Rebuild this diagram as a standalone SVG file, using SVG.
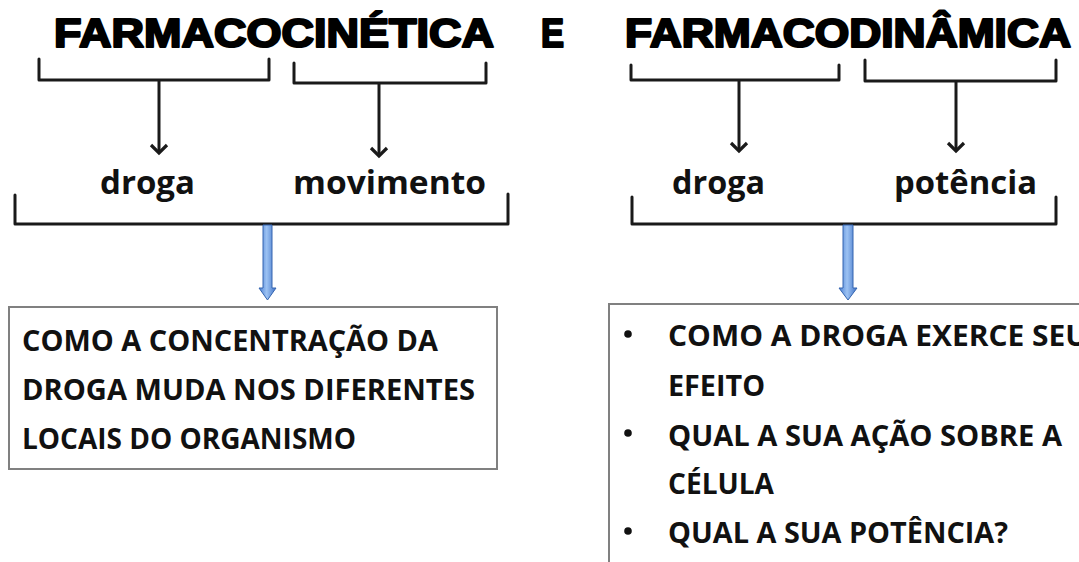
<svg xmlns="http://www.w3.org/2000/svg" width="1079" height="562" viewBox="0 0 1079 562">
<defs>
<style>
.title{font-family:"Liberation Sans",Arial,sans-serif;font-weight:700;font-size:40px;fill:#000;stroke:#000;stroke-width:2.2px;stroke-linejoin:round}
.word{font-family:"Open Sans","Noto Sans",sans-serif;font-weight:700;font-size:32px;fill:#111}
.body{font-family:"Open Sans","Noto Sans",sans-serif;font-weight:700;font-size:28px;fill:#111}
.brk{fill:none;stroke:#1a1a1a;stroke-width:3;stroke-linejoin:round;stroke-linecap:round}
.arr{fill:none;stroke:#1a1a1a;stroke-width:3}
.box{fill:#fff;stroke:#808080;stroke-width:2}
.blue{fill:url(#bg);stroke:#3565b0;stroke-width:1}
</style>
<linearGradient id="bg" x1="0" y1="0" x2="1" y2="0">
<stop offset="0" stop-color="#4a7fd2"/>
<stop offset="0.45" stop-color="#9cc2f3"/>
<stop offset="1" stop-color="#3f72c6"/>
</linearGradient>
<marker id="ah" markerWidth="20" markerHeight="20" refX="10" refY="10" orient="auto" markerUnits="userSpaceOnUse">
<path d="M2,2 L10,10 L2,18" fill="none" stroke="#1a1a1a" stroke-width="3.2" stroke-linejoin="miter"/>
</marker>
</defs>
<rect width="1079" height="562" fill="#fff"/>

<g id="title-left"><text class="title" x="54" y="47" textLength="440" lengthAdjust="spacingAndGlyphs">FARMACOCINÉTICA</text></g>
<g id="title-e"><text class="title" x="541" y="47" textLength="23" lengthAdjust="spacingAndGlyphs">E</text></g>
<g id="title-right"><text class="title" x="625" y="47" textLength="446" lengthAdjust="spacingAndGlyphs">FARMACODINÂMICA</text></g>

<g id="word-droga-1"><text class="word" x="100" y="194" textLength="95" lengthAdjust="spacingAndGlyphs">droga</text></g>
<g id="word-movimento"><text class="word" x="293" y="194" textLength="193" lengthAdjust="spacingAndGlyphs">movimento</text></g>
<g id="word-droga-2"><text class="word" x="672" y="194" textLength="93" lengthAdjust="spacingAndGlyphs">droga</text></g>
<g id="word-potencia"><text class="word" x="894" y="194" textLength="143" lengthAdjust="spacingAndGlyphs">potência</text></g>

<g id="box-left">
<rect class="box" x="9" y="307" width="488" height="162"/>
<text class="body" x="22" y="351" textLength="416" lengthAdjust="spacingAndGlyphs">COMO A CONCENTRAÇÃO DA</text>
<text class="body" x="22" y="400" textLength="453" lengthAdjust="spacingAndGlyphs">DROGA MUDA NOS DIFERENTES</text>
<text class="body" x="22" y="449" textLength="334" lengthAdjust="spacingAndGlyphs">LOCAIS DO ORGANISMO</text>
</g>

<g id="box-right">
<rect class="box" x="609" y="304" width="480" height="270"/>
<circle cx="628" cy="334" r="3.8" fill="#111"/>
<circle cx="628" cy="433" r="3.8" fill="#111"/>
<circle cx="628" cy="531" r="3.8" fill="#111"/>
<text class="body" x="668" y="346" textLength="420" lengthAdjust="spacingAndGlyphs">COMO A DROGA EXERCE SEU</text>
<text class="body" x="668" y="396" textLength="97" lengthAdjust="spacingAndGlyphs">EFEITO</text>
<text class="body" x="668" y="446" textLength="394" lengthAdjust="spacingAndGlyphs">QUAL A SUA AÇÃO SOBRE A</text>
<text class="body" x="668" y="494" textLength="106" lengthAdjust="spacingAndGlyphs">CÉLULA</text>
<text class="body" x="668" y="543" textLength="340" lengthAdjust="spacingAndGlyphs">QUAL A SUA POTÊNCIA?</text>
</g>

<g id="connectors">
<path class="brk" d="M39,59 V80 H269 V59"/>
<path class="brk" d="M294,63 V83 H486 V63"/>
<path class="brk" d="M631,65 V80 H839 V65"/>
<path class="brk" d="M865,60 V81 H1056 V60"/>
<path class="brk" d="M15,195 V224 H508 V194"/>
<path class="brk" d="M632,197 V224 H1056 V197"/>
<line class="arr" x1="159" y1="81" x2="159" y2="153" marker-end="url(#ah)"/>
<line class="arr" x1="379" y1="84" x2="379" y2="156" marker-end="url(#ah)"/>
<line class="arr" x1="739" y1="81" x2="739" y2="151" marker-end="url(#ah)"/>
<line class="arr" x1="956" y1="82" x2="956" y2="151" marker-end="url(#ah)"/>
<path class="blue" d="M263,225 H272 V288 H276 L267.5,300 L259,288 H263 Z"/>
<path class="blue" d="M843,225 H853 V288 H857 L848,300 L839,288 H843 Z"/>
</g>
</svg>
